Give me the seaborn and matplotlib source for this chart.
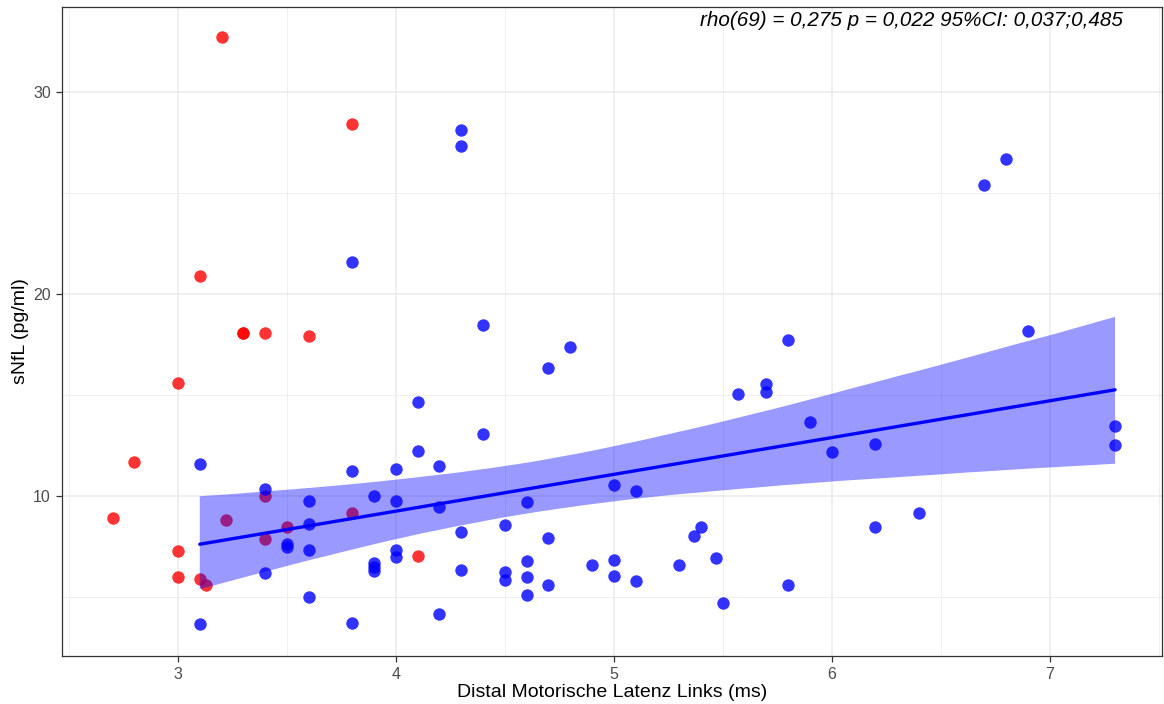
import numpy as np
import pandas as pd
import matplotlib
matplotlib.use("Agg")
import matplotlib.pyplot as plt
import seaborn as sns
from matplotlib.ticker import MultipleLocator

# Group 1 (red) - not included in the fit
red_x = [3.2, 3.8, 3.1, 3.3, 3.3, 3.4, 3.6, 3.0, 2.8, 2.7, 3.0, 3.0, 3.1, 3.13,
         3.22, 3.4, 3.4, 3.5, 3.8, 4.1]
red_y = [32.7, 28.4, 20.9, 18.05, 18.05, 18.05, 17.9, 15.6, 11.7, 8.9, 7.3, 6.0, 5.9, 5.6,
         8.8, 10.0, 7.85, 8.45, 9.15, 7.05]

# Group 2 (blue) - used for the regression
blue_x = [3.8, 4.3, 4.3, 3.1, 3.4, 3.6, 3.6, 3.5, 3.5, 3.6, 3.4, 3.6, 3.1, 3.8, 3.8,
          3.9, 3.9, 3.9, 3.9, 4.0, 4.0, 4.0, 4.0, 4.1, 4.1, 4.2, 4.2, 4.2, 4.3, 4.3,
          4.4, 4.4, 4.7, 4.8, 4.5, 4.5, 4.5, 4.6, 4.6, 4.6, 4.6, 4.7, 4.7, 4.9, 5.0,
          5.1, 5.0, 5.0, 5.1, 5.3, 5.37, 5.4, 5.47, 5.5, 5.57, 5.7, 5.7, 5.8, 5.8,
          5.9, 6.0, 6.2, 6.2, 6.4, 6.9, 7.3, 7.3, 6.8, 6.7]
blue_y = [21.6, 28.1, 27.3, 11.6, 10.35, 9.77, 8.6, 7.6, 7.45, 7.33, 6.2, 4.98, 3.65, 11.24, 3.7,
          10.0, 6.7, 6.5, 6.3, 11.32, 9.77, 7.33, 7.0, 14.67, 12.23, 11.5, 9.47, 4.14, 8.2, 6.34,
          13.05, 18.45, 16.35, 17.36, 8.56, 6.25, 5.84, 9.72, 6.8, 6.0, 5.1, 7.9, 5.6, 6.58, 10.54,
          10.26, 6.83, 6.05, 5.8, 6.6, 8.0, 8.48, 6.92, 4.72, 15.03, 15.53, 15.13, 17.72, 5.6,
          13.66, 12.2, 12.56, 8.45, 9.14, 18.17, 13.47, 12.52, 26.67, 25.4]

x_ticks = [3, 4, 5, 6, 7]
y_ticks = [10, 20, 30]
annot = "rho(69) = 0,275 p = 0,022 95%CI: 0,037;0,485"
x_label = "Distal Motorische Latenz Links (ms)"
y_label = "sNfL (pg/ml)"

red_df = pd.DataFrame({"x": red_x, "y": red_y})
blue_df = pd.DataFrame({"x": blue_x, "y": blue_y})

sns.set_theme(style="white")
plt.rcParams["font.family"] = ["Liberation Sans", "DejaVu Sans"]

fig = plt.figure(figsize=(11.64, 7.04), dpi=100)
ax = fig.add_axes([0.0533, 0.0682, 0.9447, 0.9218])

# red points (below the band)
sns.scatterplot(data=red_df, x="x", y="y", ax=ax, color="#FF0000", alpha=0.8,
                s=80, linewidth=0, zorder=2)

# regression with CI band on blue group
n_before = len(ax.collections)
sns.regplot(data=blue_df, x="x", y="y", ax=ax, scatter=False, ci=95, n_boot=20000, seed=3,
            color="#0000FF", line_kws={"linewidth": 2.4, "zorder": 5})
for coll in ax.collections[n_before:]:
    coll.set_alpha(0.4)
    coll.set_facecolor("#0000FF")
    coll.set_edgecolor("none")
    coll.set_zorder(3)

# blue points (above the band)
sns.scatterplot(data=blue_df, x="x", y="y", ax=ax, color="#0000FF", alpha=0.8,
                s=80, linewidth=0, zorder=4)

ax.set_xlim(2.468, 7.514)
ax.set_ylim(2.08, 34.2)
ax.set_xticks(x_ticks)
ax.set_yticks(y_ticks)
ax.xaxis.set_minor_locator(MultipleLocator(0.5))
ax.yaxis.set_minor_locator(MultipleLocator(5))
ax.grid(which="major", color="#EBEBEB", linewidth=1.1, zorder=0)
ax.grid(which="minor", color="#EBEBEB", linewidth=0.55, zorder=0)
ax.set_axisbelow(True)
for sp in ax.spines.values():
    sp.set_color("#333333")
    sp.set_linewidth(0.9)
ax.tick_params(which="major", length=4, width=0.9, color="#333333",
               labelsize=11.5, labelcolor="#4D4D4D", pad=4, bottom=True, left=True)
ax.tick_params(which="minor", length=0)

ax.set_xlabel(x_label, fontsize=14, color="black", va="center")
ax.set_ylabel(y_label, fontsize=14, color="black", va="center")
ax.xaxis.set_label_coords(0.5, -0.0555)
ax.yaxis.set_label_coords(-0.038, 0.5)

ax.text(0.9645, 0.98, annot, transform=ax.transAxes, ha="right", va="center",
        fontsize=14.9, style="italic", color="black", zorder=6)

fig.savefig("out.png", dpi=100)
